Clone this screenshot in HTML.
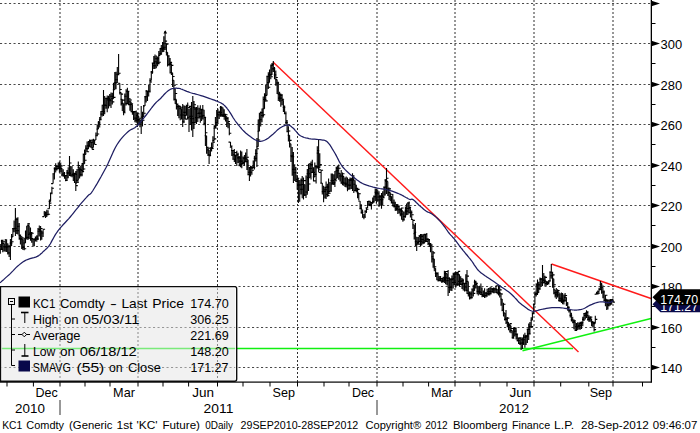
<!DOCTYPE html>
<html><head><meta charset="utf-8"><title>KC1 Comdty</title>
<style>
html,body{margin:0;padding:0;background:#fff;}
body{width:700px;height:433px;position:relative;overflow:hidden;font-family:"Liberation Sans",sans-serif;color:#000;}
svg{position:absolute;left:0;top:0;}
text{font-family:"Liberation Sans",sans-serif;}
</style></head><body>
<svg width="700" height="433" viewBox="0 0 700 433">
<rect width="700" height="433" fill="#fff"/>
<g stroke="#4a4a4a" stroke-width="1" fill="none">
<line x1="0" y1="3.5" x2="651" y2="3.5" stroke-dasharray="2.1 2.4"/>
<line x1="0" y1="43.5" x2="651" y2="43.5" stroke-dasharray="2.1 2.4"/>
<line x1="0" y1="84.5" x2="651" y2="84.5" stroke-dasharray="2.1 2.4"/>
<line x1="0" y1="124.5" x2="651" y2="124.5" stroke-dasharray="2.1 2.4"/>
<line x1="0" y1="165.5" x2="651" y2="165.5" stroke-dasharray="2.1 2.4"/>
<line x1="0" y1="205.5" x2="651" y2="205.5" stroke-dasharray="2.1 2.4"/>
<line x1="0" y1="246.5" x2="651" y2="246.5" stroke-dasharray="2.1 2.4"/>
<line x1="0" y1="286.5" x2="651" y2="286.5" stroke-dasharray="2.1 2.4"/>
<line x1="0" y1="327.5" x2="651" y2="327.5" stroke-dasharray="2.1 2.4"/>
<line x1="0" y1="367.5" x2="651" y2="367.5" stroke-dasharray="2.1 2.4"/>
<line x1="60" y1="0" x2="60" y2="382" stroke="#2e2e2e" stroke-dasharray="2 2"/>
<line x1="138" y1="0" x2="138" y2="382" stroke="#2e2e2e" stroke-dasharray="2 2"/>
<line x1="217.5" y1="0" x2="217.5" y2="382" stroke="#2e2e2e" stroke-dasharray="2 2"/>
<line x1="297.5" y1="0" x2="297.5" y2="382" stroke="#2e2e2e" stroke-dasharray="2 2"/>
<line x1="377" y1="0" x2="377" y2="382" stroke="#2e2e2e" stroke-dasharray="2 2"/>
<line x1="455" y1="0" x2="455" y2="382" stroke="#2e2e2e" stroke-dasharray="2 2"/>
<line x1="534" y1="0" x2="534" y2="382" stroke="#2e2e2e" stroke-dasharray="2 2"/>
<line x1="613" y1="0" x2="613" y2="382" stroke="#2e2e2e" stroke-dasharray="2 2"/>
</g>
<path d="M0 348.5H573" stroke="#10f010" stroke-width="1.3" fill="none"/>
<path d="M522.5 350.8L651 318.5" stroke="#10f010" stroke-width="1.4" fill="none"/>
<path d="M273 62L578.5 352" stroke="#ff1a1a" stroke-width="1.45" fill="none"/>
<path d="M551.5 264L651 298.5" stroke="#ff1a1a" stroke-width="1.4" fill="none"/>
<path d="M0.3 243.9V253.8M-1.7 244.6H0.3M0.3 249.2H2.3M1.6 239.7V249.9M-0.4 249.2H1.6M1.6 240.2H3.6M2.8 241.0V252.3M0.8 241.0H2.8M2.8 241.8H4.8M4.1 243.4V251.5M2.1 243.4H4.1M4.1 246.8H6.1M5.3 239.0V251.7M3.3 246.8H5.3M5.3 247.0H7.3M6.6 239.3V252.0M4.6 247.0H6.6M6.6 246.6H8.6M7.8 243.3V254.5M5.8 246.6H7.8M7.8 252.9H9.8M9.1 244.8V257.1M7.1 252.9H9.1M9.1 246.6H11.1M10.4 239.0V260.0M8.4 246.6H10.4M10.4 243.1H12.4M11.6 233.9V246.1M9.6 243.1H11.6M11.6 241.7H13.6M12.9 228.1V236.9M10.9 236.9H12.9M12.9 228.6H14.9M14.1 220.6V232.3M12.1 228.6H14.1M14.1 228.5H16.1M15.4 208.0V236.0M13.4 228.5H15.4M15.4 219.5H17.4M16.7 217.7V233.9M14.7 219.5H16.7M16.7 230.6H18.7M17.9 217.3V234.5M15.9 230.6H17.9M17.9 226.3H19.9M19.2 222.9V239.7M17.2 226.3H19.2M19.2 235.2H21.2M20.4 234.4V244.5M18.4 235.2H20.4M20.4 238.6H22.4M21.7 236.0V248.9M19.7 238.6H21.7M21.7 237.9H23.7M22.9 239.2V249.9M20.9 239.2H22.9M22.9 247.4H24.9M24.2 238.1V250.2M22.2 247.4H24.2M24.2 248.7H26.2M25.5 230.6V243.0M23.5 243.0H25.5M25.5 237.8H27.5M26.7 225.7V239.6M24.7 237.8H26.7M26.7 237.4H28.7M28.0 222.9V240.0M26.0 237.4H28.0M28.0 223.9H30.0M29.2 225.6V239.0M27.2 225.6H29.2M29.2 234.3H31.2M30.5 227.5V240.8M28.5 234.3H30.5M30.5 232.6H32.5M31.7 233.0V242.8M29.7 233.0H31.7M31.7 233.2H33.7M33.0 238.6V246.2M31.0 238.6H33.0M33.0 239.0H35.0M34.3 238.3V246.2M32.3 239.0H34.3M34.3 239.3H36.3M35.5 236.6V241.4M33.5 239.3H35.5M35.5 237.0H37.5M36.8 235.3V241.8M34.8 237.0H36.8M36.8 238.9H38.8M38.0 228.0V240.1M36.0 238.9H38.0M38.0 231.3H40.0M39.3 225.4V236.6M37.3 231.3H39.3M39.3 229.4H41.3M40.6 226.0V240.5M38.6 229.4H40.6M40.6 228.5H42.6M41.8 230.9V239.8M39.8 230.9H41.8M41.8 233.0H43.8M43.1 229.3V236.9M41.1 233.0H43.1M43.1 229.3H45.1M44.3 210.9V216.6M42.3 216.6H44.3M44.3 213.0H46.3M45.6 211.5V218.0M43.6 213.0H45.6M45.6 214.9H47.6M46.8 209.8V216.9M44.8 214.9H46.8M46.8 214.6H48.8M48.1 210.2V214.8M46.1 214.6H48.1M48.1 214.2H50.1M49.4 199.4V208.7M47.4 208.7H49.4M49.4 203.1H51.4M50.6 192.4V201.5M48.6 201.5H50.6M50.6 193.0H52.6M51.9 186.7V194.3M49.9 193.0H51.9M51.9 188.3H53.9M53.1 173.8V183.6M51.1 183.6H53.1M53.1 173.8H55.1M54.4 167.3V179.6M52.4 173.8H54.4M54.4 168.6H56.4M55.7 163.3V172.6M53.7 168.6H55.7M55.7 169.0H57.7M56.9 165.1V170.4M54.9 169.0H56.9M56.9 166.5H58.9M58.2 162.6V169.2M56.2 166.5H58.2M58.2 168.2H60.2M59.4 161.6V172.7M57.4 168.2H59.4M59.4 166.8H61.4M60.7 162.6V172.2M58.7 166.8H60.7M60.7 165.9H62.7M61.9 168.1V176.3M59.9 168.1H61.9M61.9 174.9H63.9M63.2 169.2V176.7M61.2 174.9H63.2M63.2 173.2H65.2M64.5 171.9V178.8M62.5 173.2H64.5M64.5 175.6H66.5M65.7 175.5V181.3M63.7 175.6H65.7M65.7 180.5H67.7M67.0 170.1V181.0M65.0 180.5H67.0M67.0 172.9H69.0M68.2 167.2V178.3M66.2 172.9H68.2M68.2 173.1H70.2M69.5 156.0V176.0M67.5 173.1H69.5M69.5 163.0H71.5M70.7 166.5V176.6M68.7 166.5H70.7M70.7 175.1H72.7M72.0 165.9V177.2M70.0 175.1H72.0M72.0 175.2H74.0M73.3 169.3V180.9M71.3 175.2H73.3M73.3 173.4H75.3M74.5 174.1V182.9M72.5 174.1H74.5M74.5 174.3H76.5M75.8 171.0V191.0M73.8 174.3H75.8M75.8 185.6H77.8M77.0 168.9V183.0M75.0 183.0H77.0M77.0 182.1H79.0M78.3 161.5V180.4M76.3 180.4H78.3M78.3 165.6H80.3M79.6 167.5V178.6M77.6 167.5H79.6M79.6 169.7H81.6M80.8 166.0V176.4M78.8 169.7H80.8M80.8 174.8H82.8M82.1 163.0V176.2M80.1 174.8H82.1M82.1 171.6H84.1M83.3 153.5V170.5M81.3 170.5H83.3M83.3 169.0H85.3M84.6 149.6V163.7M82.6 163.7H84.6M84.6 160.2H86.6M85.8 145.3V154.5M83.8 154.5H85.8M85.8 148.4H87.8M87.1 141.6V152.1M85.1 148.4H87.1M87.1 151.8H89.1M88.4 141.0V148.9M86.4 148.9H88.4M88.4 146.8H90.4M89.6 139.4V145.9M87.6 145.9H89.6M89.6 140.2H91.6M90.9 141.4V147.7M88.9 141.4H90.9M90.9 142.3H92.9M92.1 139.6V149.6M90.1 142.3H92.1M92.1 149.4H94.1M93.4 138.8V147.6M91.4 147.6H93.4M93.4 140.0H95.4M94.6 139.7V144.6M92.6 140.0H94.6M94.6 144.5H96.6M95.9 132.6V140.0M93.9 140.0H95.9M95.9 135.8H97.9M97.2 124.6V135.9M95.2 135.8H97.2M97.2 134.0H99.2M98.4 121.0V129.1M96.4 129.1H98.4M98.4 122.9H100.4M99.7 116.9V127.6M97.7 122.9H99.7M99.7 119.7H101.7M100.9 111.0V119.8M98.9 119.7H100.9M100.9 114.1H102.9M102.2 104.7V116.4M100.2 114.1H102.2M102.2 111.5H104.2M103.5 90.0V116.0M101.5 111.5H103.5M103.5 105.0H105.5M104.7 95.9V114.2M102.7 105.0H104.7M104.7 105.5H106.7M106.0 98.2V108.7M104.0 105.5H106.0M106.0 98.3H108.0M107.2 95.6V112.2M105.2 98.3H107.2M107.2 98.5H109.2M108.5 95.8V108.4M106.5 98.5H108.5M108.5 99.9H110.5M109.7 93.9V106.2M107.7 99.9H109.7M109.7 100.7H111.7M111.0 92.4V107.9M109.0 100.7H111.0M111.0 96.2H113.0M112.3 92.7V104.6M110.3 96.2H112.3M112.3 101.9H114.3M113.5 82.8V98.8M111.5 98.8H113.5M113.5 97.4H115.5M114.8 72.1V89.7M112.8 89.7H114.8M114.8 82.9H116.8M116.0 71.8V89.2M114.0 82.9H116.0M116.0 79.7H118.0M117.3 66.9V83.0M115.3 79.7H117.3M117.3 74.6H119.3M118.6 54.0V74.3M116.6 74.3H118.6M118.6 73.2H120.6M119.8 83.2V94.5M117.8 83.2H119.8M119.8 89.5H121.8M121.1 92.6V105.4M119.1 92.6H121.1M121.1 94.1H123.1M122.3 99.2V110.9M120.3 99.2H122.3M122.3 100.1H124.3M123.6 103.4V115.2M121.6 103.4H123.6M123.6 112.7H125.6M124.8 93.4V111.9M122.8 111.9H124.8M124.8 96.2H126.8M126.1 89.2V105.6M124.1 96.2H126.1M126.1 103.7H128.1M127.4 87.8V103.3M125.4 103.3H127.4M127.4 91.2H129.4M128.6 91.1V104.8M126.6 91.2H128.6M128.6 104.6H130.6M129.9 98.0V110.8M127.9 104.6H129.9M129.9 100.0H131.9M131.1 101.8V112.3M129.1 101.8H131.1M131.1 103.8H133.1M132.4 104.4V114.7M130.4 104.4H132.4M132.4 111.9H134.4M133.6 111.5V119.9M131.6 111.9H133.6M133.6 111.6H135.6M134.9 111.0V122.3M132.9 111.6H134.9M134.9 118.1H136.9M136.2 110.6V122.7M134.2 118.1H136.2M136.2 120.1H138.2M137.4 112.4V127.0M135.4 120.1H137.4M137.4 113.9H139.4M138.7 115.8V124.5M136.7 115.8H138.7M138.7 118.2H140.7M139.9 119.5V127.2M137.9 119.5H139.9M139.9 122.8H141.9M141.2 106.0V134.0M139.2 122.8H141.2M141.2 120.8H143.2M142.5 111.7V126.5M140.5 120.8H142.5M142.5 120.2H144.5M143.7 105.1V117.0M141.7 117.0H143.7M143.7 113.3H145.7M145.0 96.0V106.0M143.0 106.0H145.0M145.0 96.7H147.0M146.2 90.0V102.6M144.2 96.7H146.2M146.2 91.1H148.2M147.5 90.6V101.0M145.5 91.1H147.5M147.5 91.3H149.5M148.7 84.7V96.6M146.7 91.3H148.7M148.7 91.3H150.7M150.0 78.2V92.6M148.0 91.3H150.0M150.0 82.0H152.0M151.3 70.9V80.6M149.3 80.6H151.3M151.3 72.0H153.3M152.5 62.5V73.7M150.5 72.0H152.5M152.5 63.1H154.5M153.8 56.0V68.9M151.8 63.1H153.8M153.8 65.8H155.8M155.0 54.4V69.1M153.0 65.8H155.0M155.0 61.7H157.0M156.3 55.5V68.2M154.3 61.7H156.3M156.3 58.6H158.3M157.6 56.4V66.2M155.6 58.6H157.6M157.6 63.6H159.6M158.8 51.0V63.1M156.8 63.1H158.8M158.8 62.3H160.8M160.1 48.0V55.4M158.1 55.4H160.1M160.1 54.1H162.1M161.3 45.0V53.8M159.3 53.8H161.3M161.3 48.4H163.3M162.6 41.9V52.2M160.6 48.4H162.6M162.6 49.0H164.6M163.8 36.2V51.9M161.8 49.0H163.8M163.8 47.3H165.8M165.1 31.0V50.1M163.1 47.3H165.1M165.1 41.1H167.1M166.4 43.3V55.6M164.4 43.3H166.4M166.4 44.2H168.4M167.6 52.2V66.6M165.6 52.2H167.6M167.6 55.9H169.6M168.9 55.8V65.8M166.9 55.9H168.9M168.9 64.5H170.9M170.1 58.0V73.6M168.1 64.5H170.1M170.1 62.4H172.1M171.4 63.6V75.0M169.4 63.6H171.4M171.4 65.4H173.4M172.6 72.8V87.0M170.6 72.8H172.6M172.6 76.5H174.6M173.9 80.3V100.6M171.9 80.3H173.9M173.9 85.2H175.9M175.2 88.8V103.9M173.2 88.8H175.2M175.2 93.5H177.2M176.4 99.4V109.4M174.4 99.4H176.4M176.4 104.1H178.4M177.7 104.2V116.0M175.7 104.2H177.7M177.7 106.6H179.7M178.9 105.1V118.2M176.9 106.6H178.9M178.9 106.2H180.9M180.2 106.6V120.2M178.2 106.6H180.2M180.2 107.2H182.2M181.5 108.6V119.5M179.5 108.6H181.5M181.5 115.0H183.5M182.7 104.0V127.0M180.7 115.0H182.7M182.7 121.7H184.7M184.0 105.3V123.0M182.0 121.7H184.0M184.0 112.2H186.0M185.2 106.0V119.3M183.2 112.2H185.2M185.2 119.1H187.2M186.5 104.8V115.5M184.5 115.5H186.5M186.5 105.2H188.5M187.7 102.4V119.6M185.7 105.2H187.7M187.7 117.7H189.7M189.0 109.0V132.0M187.0 117.7H189.0M189.0 106.4H191.0M190.3 107.6V124.9M188.3 107.6H190.3M190.3 116.3H192.3M191.5 102.1V130.6M189.5 116.3H191.5M191.5 118.8H193.5M192.8 96.0V137.0M190.8 118.8H192.8M192.8 122.6H194.8M194.0 101.0V129.0M192.0 122.6H194.0M194.0 104.7H196.0M195.3 107.3V123.3M193.3 107.3H195.3M195.3 109.0H197.3M196.5 107.0V124.1M194.5 109.0H196.5M196.5 117.7H198.5M197.8 105.3V122.1M195.8 117.7H197.8M197.8 113.5H199.8M199.1 107.7V118.4M197.1 113.5H199.1M199.1 113.1H201.1M200.3 105.2V122.7M198.3 113.1H200.3M200.3 116.7H202.3M201.6 108.8V121.0M199.6 116.7H201.6M201.6 109.7H203.6M202.8 105.0V119.5M200.8 109.7H202.8M202.8 115.6H204.8M204.1 109.7V125.2M202.1 115.6H204.1M204.1 117.4H206.1M205.4 118.0V146.0M203.4 123.4H205.4M205.4 132.7H207.4M206.6 135.8V153.7M204.6 135.8H206.6M206.6 147.3H208.6M207.9 147.0V156.0M205.9 147.3H207.9M207.9 148.3H209.9M209.1 149.9V164.0M207.1 149.9H209.1M209.1 155.6H211.1M210.4 147.2V154.9M208.4 154.9H210.4M210.4 147.7H212.4M211.6 142.4V151.4M209.6 147.7H211.6M211.6 148.5H213.6M212.9 136.2V147.6M210.9 147.6H212.9M212.9 142.1H214.9M214.2 125.3V140.5M212.2 140.5H214.2M214.2 138.9H216.2M215.4 116.9V128.3M213.4 128.3H215.4M215.4 128.0H217.4M216.7 110.0V126.1M214.7 126.1H216.7M216.7 123.2H218.7M217.9 108.7V122.6M215.9 122.6H217.9M217.9 114.9H219.9M219.2 110.7V119.1M217.2 114.9H219.2M219.2 112.5H221.2M220.5 106.0V116.8M218.5 112.5H220.5M220.5 107.6H222.5M221.7 106.3V116.8M219.7 107.6H221.7M221.7 114.9H223.7M223.0 107.4V117.1M221.0 114.9H223.0M223.0 116.0H225.0M224.2 109.3V119.7M222.2 116.0H224.2M224.2 114.4H226.2M225.5 114.7V121.4M223.5 114.7H225.5M225.5 114.8H227.5M226.7 116.5V126.9M224.7 116.5H226.7M226.7 117.9H228.7M228.0 118.4V128.2M226.0 118.4H228.0M228.0 121.5H230.0M229.3 123.0V135.3M227.3 123.0H229.3M229.3 133.3H231.3M230.5 142.1V146.4M228.5 142.1H230.5M230.5 146.1H232.5M231.8 147.2V156.1M229.8 147.2H231.8M231.8 150.5H233.8M233.0 150.0V159.3M231.0 150.5H233.0M233.0 159.3H235.0M234.3 149.1V162.1M232.3 159.3H234.3M234.3 152.6H236.3M235.5 154.8V164.1M233.5 154.8H235.5M235.5 155.8H237.5M236.8 150.7V166.1M234.8 155.8H236.8M236.8 154.5H238.8M238.1 152.7V162.9M236.1 154.5H238.1M238.1 157.9H240.1M239.3 155.9V166.2M237.3 157.9H239.3M239.3 165.0H241.3M240.6 150.4V167.3M238.6 165.0H240.6M240.6 161.1H242.6M241.8 151.5V168.3M239.8 161.1H241.8M241.8 163.6H243.8M243.1 156.5V164.6M241.1 163.6H243.1M243.1 162.5H245.1M244.4 155.0V165.8M242.4 162.5H244.4M244.4 158.1H246.4M245.6 152.6V162.3M243.6 158.1H245.6M245.6 161.6H247.6M246.9 149.0V170.0M244.9 161.6H246.9M246.9 157.2H248.9M248.1 159.7V175.1M246.1 159.7H248.1M248.1 174.7H250.1M249.4 166.9V181.0M247.4 174.7H249.4M249.4 172.2H251.4M250.6 165.8V176.6M248.6 172.2H250.6M250.6 167.6H252.6M251.9 165.9V174.8M249.9 167.6H251.9M251.9 170.3H253.9M253.2 160.5V168.2M251.2 168.2H253.2M253.2 167.5H255.2M254.4 155.8V169.5M252.4 167.5H254.4M254.4 158.4H256.4M255.7 149.3V161.4M253.7 158.4H255.7M255.7 153.5H257.7M256.9 138.0V167.0M254.9 153.5H256.9M256.9 148.7H258.9M258.2 119.5V146.8M256.2 146.8H258.2M258.2 140.0H260.2M259.4 112.7V131.2M257.4 131.2H259.4M259.4 119.6H261.4M260.7 111.6V126.6M258.7 119.6H260.7M260.7 112.6H262.7M262.0 108.5V122.3M260.0 112.6H262.0M262.0 115.5H264.0M263.2 96.6V117.6M261.2 115.5H263.2M263.2 114.7H265.2M264.5 93.3V108.8M262.5 108.8H264.5M264.5 99.5H266.5M265.7 84.8V101.7M263.7 99.5H265.7M265.7 100.9H267.7M267.0 75.7V95.4M265.0 95.4H267.0M267.0 76.3H269.0M268.3 72.2V88.9M266.3 76.3H268.3M268.3 87.2H270.3M269.5 69.5V82.6M267.5 82.6H269.5M269.5 74.6H271.5M270.8 64.5V79.3M268.8 74.6H270.8M270.8 76.7H272.8M272.0 63.1V75.0M270.0 75.0H272.0M272.0 64.4H274.0M273.3 61.0V72.1M271.3 65.4H273.3M273.3 68.9H275.3M274.5 67.1V79.2M272.5 68.9H274.5M274.5 74.9H276.5M275.8 70.6V85.7M273.8 74.9H275.8M275.8 77.5H277.8M277.1 79.6V94.0M275.1 79.6H277.1M277.1 83.0H279.1M278.3 81.7V100.9M276.3 83.0H278.3M278.3 94.1H280.3M279.6 91.7V101.8M277.6 94.1H279.6M279.6 98.1H281.6M280.8 93.4V106.7M278.8 98.1H280.8M280.8 94.9H282.8M282.1 95.5V105.2M280.1 95.5H282.1M282.1 99.2H284.1M283.4 100.2V112.0M281.4 100.2H283.4M283.4 107.3H285.4M284.6 105.4V114.1M282.6 107.3H284.6M284.6 113.8H286.6M285.9 111.5V124.0M283.9 113.8H285.9M285.9 122.5H287.9M287.1 120.1V132.2M285.1 122.5H287.1M287.1 131.7H289.1M288.4 126.3V141.5M286.4 131.7H288.4M288.4 131.0H290.4M289.6 135.3V147.5M287.6 135.3H289.6M289.6 140.4H291.6M290.9 143.7V162.0M288.9 143.7H290.9M290.9 155.9H292.9M292.2 146.9V175.8M290.2 155.9H292.2M292.2 156.7H294.2M293.4 152.0V183.0M291.4 156.7H293.4M293.4 169.2H295.4M294.7 164.3V181.1M292.7 169.2H294.7M294.7 172.8H296.7M295.9 166.9V181.8M293.9 172.8H295.9M295.9 181.4H297.9M297.2 174.9V189.8M295.2 181.4H297.2M297.2 178.2H299.2M298.4 179.4V203.0M296.4 179.4H298.4M298.4 185.1H300.4M299.7 180.1V201.8M297.7 185.1H299.7M299.7 184.9H301.7M301.0 178.5V194.6M299.0 184.9H301.0M301.0 189.2H303.0M302.2 176.1V198.3M300.2 189.2H302.2M302.2 180.8H304.2M303.5 177.5V199.6M301.5 180.8H303.5M303.5 180.6H305.5M304.7 184.5V196.1M302.7 184.5H304.7M304.7 195.0H306.7M306.0 175.6V198.0M304.0 195.0H306.0M306.0 192.0H308.0M307.3 168.9V194.8M305.3 192.0H307.3M307.3 173.7H309.3M308.5 163.7V190.9M306.5 173.7H308.5M308.5 184.0H310.5M309.8 163.0V177.7M307.8 177.7H309.8M309.8 168.5H311.8M311.0 161.4V179.6M309.0 168.5H311.0M311.0 164.5H313.0M312.3 159.8V173.0M310.3 164.5H312.3M312.3 172.4H314.3M313.5 167.3V181.4M311.5 172.4H313.5M313.5 180.9H315.5M314.8 162.6V176.9M312.8 176.9H314.8M314.8 174.4H316.8M316.1 165.7V183.6M314.1 174.4H316.1M316.1 166.6H318.1M317.3 146.3V168.5M315.3 166.6H317.3M317.3 150.6H319.3M318.6 139.0V172.0M316.6 153.1H318.6M318.6 172.5H320.6M319.8 153.2V168.0M317.8 168.0H319.8M319.8 164.6H321.8M321.1 169.7V183.1M319.1 169.7H321.1M321.1 170.2H323.1M322.3 183.1V194.5M320.3 183.1H322.3M322.3 191.6H324.3M323.6 185.8V202.2M321.6 191.6H323.6M323.6 191.3H325.6M324.9 186.7V198.5M322.9 191.3H324.9M324.9 189.8H326.9M326.1 181.5V199.1M324.1 189.8H326.1M326.1 187.1H328.1M327.4 183.7V196.7M325.4 187.1H327.4M327.4 195.6H329.4M328.6 178.4V194.2M326.6 194.2H328.6M328.6 193.3H330.6M329.9 182.0V191.6M327.9 191.6H329.9M329.9 191.2H331.9M331.2 173.6V191.6M329.2 191.2H331.2M331.2 180.6H333.2M332.4 173.5V184.8M330.4 180.6H332.4M332.4 184.0H334.4M333.7 174.2V185.0M331.7 184.0H333.7M333.7 182.8H335.7M334.9 171.0V187.1M332.9 182.8H334.9M334.9 180.8H336.9M336.2 166.8V179.4M334.2 179.4H336.2M336.2 170.8H338.2M337.4 165.7V178.2M335.4 170.8H337.4M337.4 168.2H339.4M338.7 164.6V179.7M336.7 168.2H338.7M338.7 168.3H340.7M340.0 173.3V181.6M338.0 173.3H340.0M340.0 176.0H342.0M341.2 170.0V183.9M339.2 176.0H341.2M341.2 182.3H343.2M342.5 172.4V185.3M340.5 182.3H342.5M342.5 173.7H344.5M343.7 176.1V185.8M341.7 176.1H343.7M343.7 183.0H345.7M345.0 177.5V186.9M343.0 183.0H345.0M345.0 183.3H347.0M346.2 176.4V187.5M344.2 183.3H346.2M346.2 184.7H348.2M347.5 177.4V191.2M345.5 184.7H347.5M347.5 189.0H349.5M348.8 179.0V189.8M346.8 189.0H348.8M348.8 185.1H350.8M350.0 177.4V189.5M348.0 185.1H350.0M350.0 180.4H352.0M351.3 177.7V189.1M349.3 180.4H351.3M351.3 179.4H353.3M352.5 173.2V191.0M350.5 179.4H352.5M352.5 180.2H354.5M353.8 175.1V193.0M351.8 180.2H353.8M353.8 184.2H355.8M355.1 180.3V190.6M353.1 184.2H355.1M355.1 190.6H357.1M356.3 184.8V192.2M354.3 190.6H356.3M356.3 188.3H358.3M357.6 189.0V198.2M355.6 189.0H357.6M357.6 189.4H359.6M358.8 192.9V200.0M356.8 192.9H358.8M358.8 193.8H360.8M360.1 201.0V209.3M358.1 201.0H360.1M360.1 208.7H362.1M361.3 204.3V213.7M359.3 208.7H361.3M361.3 212.4H363.3M362.6 209.4V217.7M360.6 212.4H362.6M362.6 217.3H364.6M363.9 214.1V219.2M361.9 217.3H363.9M363.9 217.2H365.9M365.1 210.3V217.4M363.1 217.2H365.1M365.1 211.3H367.1M366.4 208.0V213.1M364.4 211.3H366.4M366.4 209.3H368.4M367.6 201.4V207.9M365.6 207.9H367.6M367.6 201.5H369.6M368.9 200.4V206.0M366.9 201.5H368.9M368.9 204.2H370.9M370.2 200.7V206.2M368.2 204.2H370.2M370.2 205.1H372.2M371.4 202.0V209.6M369.4 205.1H371.4M371.4 202.5H373.4M372.7 197.6V203.9M370.7 202.5H372.7M372.7 201.6H374.7M373.9 195.5V202.8M371.9 201.6H373.9M373.9 196.7H375.9M375.2 188.4V201.1M373.2 196.7H375.2M375.2 192.3H377.2M376.4 189.1V203.7M374.4 192.3H376.4M376.4 193.7H378.4M377.7 189.8V201.6M375.7 193.7H377.7M377.7 200.0H379.7M379.0 191.3V206.9M377.0 200.0H379.0M379.0 197.0H381.0M380.2 195.8V205.7M378.2 197.0H380.2M380.2 195.9H382.2M381.5 192.9V208.7M379.5 195.9H381.5M381.5 199.6H383.5M382.7 191.2V205.5M380.7 199.6H382.7M382.7 197.8H384.7M384.0 186.9V196.7M382.0 196.7H384.0M384.0 187.1H386.0M385.2 178.9V195.5M383.2 187.1H385.2M385.2 180.3H387.2M386.5 168.0V194.0M384.5 180.3H386.5M386.5 178.3H388.5M387.8 181.4V196.0M385.8 181.4H387.8M387.8 189.0H389.8M389.0 187.5V200.0M387.0 189.0H389.0M389.0 188.9H391.0M390.3 192.6V201.3M388.3 192.6H390.3M390.3 194.3H392.3M391.5 196.2V203.3M389.5 196.2H391.5M391.5 202.9H393.5M392.8 194.0V206.4M390.8 202.9H392.8M392.8 205.5H394.8M394.1 199.4V207.6M392.1 205.5H394.1M394.1 206.8H396.1M395.3 201.8V210.9M393.3 206.8H395.3M395.3 208.9H397.3M396.6 204.0V210.8M394.6 208.9H396.6M396.6 206.8H398.6M397.8 203.9V214.0M395.8 206.8H397.8M397.8 206.1H399.8M399.1 205.8V213.5M397.1 206.1H399.1M399.1 209.8H401.1M400.3 208.2V216.3M398.3 209.8H400.3M400.3 214.1H402.3M401.6 207.5V219.7M399.6 214.1H401.6M401.6 208.0H403.6M402.9 210.9V221.7M400.9 210.9H402.9M402.9 220.0H404.9M404.1 211.7V219.7M402.1 219.7H404.1M404.1 216.5H406.1M405.4 206.4V217.7M403.4 216.5H405.4M405.4 211.1H407.4M406.6 203.5V215.3M404.6 211.1H406.6M406.6 208.5H408.6M407.9 202.6V215.1M405.9 208.5H407.9M407.9 202.9H409.9M409.1 201.5V213.6M407.1 202.9H409.1M409.1 207.4H411.1M410.4 208.2V217.5M408.4 208.2H410.4M410.4 212.5H412.4M411.7 210.5V219.4M409.7 212.5H411.7M411.7 214.7H413.7M412.9 219.5V228.9M410.9 219.5H412.9M412.9 220.4H414.9M414.2 224.7V239.5M412.2 224.7H414.2M414.2 232.3H416.2M415.4 223.0V246.0M413.4 233.6H415.4M415.4 241.7H417.4M416.7 236.7V251.1M414.7 241.7H416.7M416.7 244.1H418.7M418.0 237.0V244.5M416.0 244.1H418.0M418.0 244.1H420.0M419.2 235.0V242.6M417.2 242.6H419.2M419.2 241.5H421.2M420.5 234.0V246.4M418.5 241.5H420.5M420.5 236.4H422.5M421.7 234.1V245.4M419.7 236.4H421.7M421.7 239.6H423.7M423.0 234.2V244.3M421.0 239.6H423.0M423.0 242.1H425.0M424.2 233.7V243.8M422.2 242.1H424.2M424.2 234.4H426.2M425.5 234.8V242.3M423.5 234.8H425.5M425.5 241.5H427.5M426.8 232.9V240.5M424.8 240.5H426.8M426.8 239.1H428.8M428.0 238.2V244.9M426.0 239.1H428.0M428.0 239.6H430.0M429.3 239.9V247.0M427.3 239.9H429.3M429.3 243.5H431.3M430.5 243.5V252.2M428.5 243.5H430.5M430.5 244.9H432.5M431.8 244.8V262.4M429.8 244.9H431.8M431.8 256.8H433.8M433.1 251.0V267.8M431.1 256.8H433.1M433.1 252.9H435.1M434.3 258.9V271.3M432.3 258.9H434.3M434.3 266.8H436.3M435.6 268.3V276.9M433.6 268.3H435.6M435.6 273.3H437.6M436.8 272.2V280.2M434.8 273.3H436.8M436.8 273.0H438.8M438.1 273.8V281.5M436.1 273.8H438.1M438.1 280.0H440.1M439.3 275.9V280.6M437.3 280.0H439.3M439.3 280.6H441.3M440.6 276.0V281.6M438.6 280.6H440.6M440.6 278.5H442.6M441.9 278.0V283.0M439.9 278.5H441.9M441.9 281.7H443.9M443.1 276.7V282.1M441.1 281.7H443.1M443.1 280.1H445.1M444.4 270.7V282.9M442.4 280.1H444.4M444.4 277.9H446.4M445.6 271.0V284.3M443.6 277.9H445.6M445.6 271.5H447.6M446.9 273.6V285.3M444.9 273.6H446.9M446.9 280.8H448.9M448.1 270.0V296.0M446.1 280.8H448.1M448.1 278.3H450.1M449.4 277.3V292.9M447.4 278.3H449.4M449.4 287.5H451.4M450.7 278.3V290.8M448.7 287.5H450.7M450.7 279.6H452.7M451.9 275.5V290.9M449.9 279.6H451.9M451.9 278.9H453.9M453.2 272.7V288.4M451.2 278.9H453.2M453.2 282.5H455.2M454.4 272.6V285.1M452.4 282.5H454.4M454.4 274.3H456.4M455.7 271.3V287.8M453.7 274.3H455.7M455.7 272.9H457.7M457.0 272.0V285.9M455.0 272.9H457.0M457.0 284.1H459.0M458.2 271.3V285.8M456.2 284.1H458.2M458.2 271.4H460.2M459.5 274.6V286.6M457.5 274.6H459.5M459.5 281.4H461.5M460.7 276.2V284.9M458.7 281.4H460.7M460.7 284.4H462.7M462.0 278.1V289.0M460.0 284.4H462.0M462.0 280.8H464.0M463.2 278.8V290.4M461.2 280.8H463.2M463.2 283.5H465.2M464.5 282.8V291.5M462.5 283.5H464.5M464.5 283.3H466.5M465.8 274.3V291.2M463.8 283.3H465.8M465.8 290.2H467.8M467.0 270.0V294.0M465.0 287.0H467.0M467.0 276.1H469.0M468.3 281.4V296.6M466.3 281.4H468.3M468.3 293.7H470.3M469.5 291.5V299.6M467.5 293.7H469.5M469.5 294.0H471.5M470.8 291.6V299.2M468.8 294.0H470.8M470.8 297.5H472.8M472.0 289.0V298.6M470.0 297.5H472.0M472.0 289.0H474.0M473.3 284.7V296.4M471.3 289.0H473.3M473.3 293.4H475.3M474.6 279.7V290.7M472.6 290.7H474.6M474.6 282.1H476.6M475.8 280.7V288.5M473.8 282.1H475.8M475.8 283.4H477.8M477.1 284.5V294.3M475.1 284.5H477.1M477.1 291.3H479.1M478.3 286.5V295.5M476.3 291.3H478.3M478.3 291.5H480.3M479.6 285.7V294.6M477.6 291.5H479.6M479.6 292.7H481.6M480.9 283.4V294.9M478.9 292.7H480.9M480.9 294.5H482.9M482.1 287.4V297.2M480.1 294.5H482.1M482.1 296.0H484.1M483.4 290.4V297.0M481.4 296.0H483.4M483.4 295.3H485.4M484.6 288.3V297.9M482.6 295.3H484.6M484.6 295.5H486.6M485.9 292.0V297.4M483.9 295.5H485.9M485.9 293.3H487.9M487.1 288.7V296.8M485.1 293.3H487.1M487.1 293.9H489.1M488.4 287.9V295.4M486.4 293.9H488.4M488.4 291.5H490.4M489.7 287.6V295.6M487.7 291.5H489.7M489.7 293.2H491.7M490.9 287.0V294.5M488.9 293.2H490.9M490.9 291.3H492.9M492.2 288.0V292.8M490.2 291.3H492.2M492.2 289.0H494.2M493.4 287.4V293.2M491.4 289.0H493.4M493.4 288.2H495.4M494.7 289.4V293.2M492.7 289.4H494.7M494.7 289.8H496.7M496.0 285.5V293.1M494.0 289.8H496.0M496.0 285.7H498.0M497.2 289.1V294.2M495.2 289.1H497.2M497.2 292.7H499.2M498.5 285.2V295.6M496.5 292.7H498.5M498.5 285.9H500.5M499.7 285.6V297.4M497.7 285.9H499.7M499.7 289.9H501.7M501.0 293.1V305.7M499.0 293.1H501.0M501.0 294.0H503.0M502.2 299.0V311.3M500.2 299.0H502.2M502.2 310.3H504.2M503.5 302.8V316.4M501.5 310.3H503.5M503.5 304.3H505.5M504.8 312.9V320.6M502.8 312.9H504.8M504.8 319.5H506.8M506.0 310.1V324.1M504.0 319.5H506.0M506.0 318.9H508.0M507.3 317.1V327.3M505.3 318.9H507.3M507.3 318.1H509.3M508.5 322.2V330.2M506.5 322.2H508.5M508.5 324.8H510.5M509.8 323.4V332.6M507.8 324.8H509.8M509.8 323.6H511.8M511.0 325.7V333.3M509.0 325.7H511.0M511.0 328.5H513.0M512.3 330.5V338.4M510.3 330.5H512.3M512.3 338.2H514.3M513.6 328.4V337.7M511.6 337.7H513.6M513.6 328.6H515.6M514.8 327.0V336.4M512.8 328.6H514.8M514.8 331.1H516.8M516.1 327.5V339.6M514.1 331.1H516.1M516.1 334.0H518.1M517.3 334.1V341.6M515.3 334.1H517.3M517.3 340.5H519.3M518.6 337.9V343.9M516.6 340.5H518.6M518.6 337.9H520.6M519.9 338.1V344.9M517.9 338.1H519.9M519.9 343.3H521.9M521.1 337.3V350.0M519.1 343.3H521.1M521.1 343.0H523.1M522.4 337.5V349.0M520.4 343.0H522.4M522.4 339.7H524.4M523.6 334.6V345.1M521.6 339.7H523.6M523.6 337.3H525.6M524.9 332.8V347.7M522.9 337.3H524.9M524.9 337.0H526.9M526.1 335.0V345.1M524.1 337.0H526.1M526.1 336.1H528.1M527.4 328.4V343.0M525.4 336.1H527.4M527.4 329.5H529.4M528.7 323.5V340.1M526.7 329.5H528.7M528.7 333.9H530.7M529.9 321.9V334.5M527.9 333.9H529.9M529.9 326.9H531.9M531.2 317.3V327.7M529.2 326.9H531.2M531.2 326.5H533.2M532.4 312.2V320.3M530.4 320.3H532.4M532.4 313.8H534.4M533.7 303.4V312.7M531.7 312.7H533.7M533.7 307.0H535.7M534.9 291.4V304.4M532.9 304.4H534.9M534.9 294.4H536.9M536.2 283.2V296.4M534.2 294.4H536.2M536.2 293.2H538.2M537.5 279.5V294.9M535.5 293.2H537.5M537.5 284.9H539.5M538.7 281.7V292.9M536.7 284.9H538.7M538.7 289.1H540.7M540.0 277.4V288.7M538.0 288.7H540.0M540.0 279.3H542.0M541.2 278.0V286.2M539.2 279.3H541.2M541.2 279.1H543.2M542.5 265.0V286.0M540.5 279.1H542.5M542.5 282.6H544.5M543.8 272.9V283.6M541.8 282.6H543.8M543.8 280.4H545.8M545.0 275.8V285.9M543.0 280.4H545.0M545.0 277.4H547.0M546.3 281.1V285.7M544.3 281.1H546.3M546.3 283.5H548.3M547.5 281.2V284.9M545.5 283.5H547.5M547.5 282.4H549.5M548.8 280.4V284.5M546.8 282.4H548.8M548.8 280.8H550.8M550.0 271.2V281.7M548.0 280.8H550.0M550.0 272.3H552.0M551.3 264.0V278.6M549.3 272.3H551.3M551.3 275.8H553.3M552.6 271.8V287.8M550.6 275.8H552.6M552.6 274.9H554.6M553.8 278.7V294.3M551.8 278.7H553.8M553.8 284.7H555.8M555.1 289.8V297.5M553.1 289.8H555.1M555.1 292.9H557.1M556.3 287.9V298.9M554.3 292.9H556.3M556.3 294.9H558.3M557.6 289.3V297.6M555.6 294.9H557.6M557.6 290.5H559.6M558.9 291.8V301.4M556.9 291.8H558.9M558.9 300.5H560.9M560.1 293.3V301.9M558.1 300.5H560.1M560.1 298.2H562.1M561.4 292.6V303.0M559.4 298.2H561.4M561.4 300.1H563.4M562.6 293.0V304.3M560.6 300.1H562.6M562.6 301.8H564.6M563.9 294.5V304.5M561.9 301.8H563.9M563.9 300.9H565.9M565.1 293.0V301.1M563.1 300.9H565.1M565.1 295.5H567.1M566.4 297.3V305.9M564.4 297.3H566.4M566.4 304.0H568.4M567.7 302.1V310.7M565.7 304.0H567.7M567.7 307.5H569.7M568.9 306.3V312.6M566.9 307.5H568.9M568.9 310.2H570.9M570.2 310.8V317.6M568.2 310.8H570.2M570.2 315.4H572.2M571.4 312.8V321.6M569.4 315.4H571.4M571.4 319.7H573.4M572.7 316.7V323.3M570.7 319.7H572.7M572.7 320.0H574.7M573.9 319.4V329.2M571.9 320.0H573.9M573.9 320.9H575.9M575.2 322.1V331.0M573.2 322.1H575.2M575.2 330.5H577.2M576.5 322.9V330.2M574.5 330.2H576.5M576.5 326.8H578.5M577.7 322.3V330.0M575.7 326.8H577.7M577.7 326.2H579.7M579.0 322.6V329.5M577.0 326.2H579.0M579.0 325.4H581.0M580.2 321.8V329.7M578.2 325.4H580.2M580.2 323.4H582.2M581.5 321.6V328.9M579.5 323.4H581.5M581.5 322.5H583.5M582.8 316.7V326.3M580.8 322.5H582.8M582.8 320.1H584.8M584.0 313.6V319.4M582.0 319.4H584.0M584.0 313.6H586.0M585.3 312.5V319.5M583.3 313.6H585.3M585.3 315.5H587.3M586.5 310.2V317.9M584.5 315.5H586.5M586.5 311.9H588.5M587.8 312.5V320.3M585.8 312.5H587.8M587.8 319.9H589.8M589.0 315.2V322.1M587.0 319.9H589.0M589.0 317.9H591.0M590.3 316.3V321.8M588.3 317.9H590.3M590.3 317.1H592.3M591.6 318.8V326.2M589.6 318.8H591.6M591.6 322.3H593.6M592.8 321.1V327.6M590.8 322.3H592.8M592.8 322.5H594.8M594.1 321.8V331.4M592.1 322.5H594.1M594.1 329.6H596.1M595.3 315.8V323.6M593.3 323.6H595.3M595.3 319.4H597.3M596.6 291.7V294.3M594.6 294.3H596.6M596.6 293.9H598.6M597.8 290.5V293.6M595.8 293.6H597.8M597.8 293.1H599.8M599.1 287.7V291.7M597.1 291.7H599.1M599.1 289.4H601.1M600.4 281.0V290.2M598.4 289.4H600.4M600.4 284.3H602.4M601.6 282.7V293.8M599.6 284.3H601.6M601.6 286.0H603.6M602.9 287.3V298.2M600.9 287.3H602.9M602.9 292.0H604.9M604.1 290.6V301.4M602.1 292.0H604.1M604.1 300.6H606.1M605.4 294.7V306.2M603.4 300.6H605.4M605.4 295.3H607.4M606.7 299.2V309.9M604.7 299.2H606.7M606.7 300.7H608.7M607.9 299.3V309.4M605.9 300.7H607.9M607.9 305.7H609.9M609.2 299.5V304.9M607.2 304.9H609.2M609.2 303.0H611.2M610.4 299.1V305.4M608.4 303.0H610.4M610.4 299.8H612.4M611.7 299.1V304.8M609.7 299.8H611.7M611.7 301.1H613.7M612.9 298.6V302.5M610.9 301.1H612.9M612.9 302.1H614.9" stroke="#000" stroke-width="1.1" fill="none"/>
<path d="M163.4 33.6L165.3 30.2L167.2 33.6Z" fill="#000"/>
<path d="M0.0 282.7L1.0 281.9L2.3 280.7L3.9 279.4L5.5 277.9L7.2 276.4L8.8 275.0L10.3 273.6L11.7 272.1L13.2 270.6L14.6 269.1L16.0 267.6L17.5 266.3L18.9 265.1L20.3 263.9L21.8 262.8L23.2 261.8L24.7 260.9L26.3 260.0L28.1 259.3L30.0 258.7L31.9 258.1L33.9 257.6L35.7 257.1L37.3 256.4L38.7 255.6L39.9 254.7L40.9 253.8L42.0 252.9L42.9 251.9L43.9 251.0L44.9 250.1L45.8 249.3L46.7 248.5L47.5 247.6L48.4 246.6L49.3 245.4L50.2 244.0L51.1 242.4L52.0 240.6L53.0 238.9L53.9 237.2L54.8 235.6L55.7 234.2L56.5 233.0L57.3 231.8L58.1 230.6L59.1 229.3L60.3 227.9L61.7 226.3L63.3 224.5L65.0 222.7L66.8 220.8L68.6 218.9L70.2 217.0L71.7 215.2L73.2 213.3L74.7 211.4L76.1 209.6L77.6 207.8L79.0 206.0L80.5 204.2L82.0 202.4L83.6 200.6L85.1 198.9L86.5 197.4L87.7 196.0L88.6 195.1L89.3 194.6L89.9 194.3L90.5 193.8L91.3 192.8L92.6 191.0L94.3 188.2L96.5 184.7L98.8 180.6L101.3 176.3L103.6 172.0L105.8 168.0L107.8 164.1L109.6 160.0L111.4 155.9L113.2 151.9L115.0 148.3L116.8 145.0L118.7 142.2L120.5 139.6L122.4 137.4L124.2 135.4L126.0 133.6L127.7 132.0L129.2 130.7L130.7 129.8L132.1 129.1L133.4 128.5L134.8 127.7L136.2 126.6L137.7 125.2L139.2 123.5L140.8 121.7L142.3 119.8L143.9 117.9L145.4 116.0L147.0 114.0L148.6 111.8L150.3 109.7L151.9 107.5L153.4 105.6L154.7 104.0L155.8 102.8L156.7 101.9L157.6 101.1L158.3 100.5L159.1 99.8L160.0 99.0L161.0 98.0L162.0 96.8L163.1 95.7L164.1 94.5L165.1 93.5L166.0 92.6L166.8 91.9L167.5 91.2L168.2 90.7L168.8 90.3L169.4 89.9L170.0 89.5L170.6 89.2L171.2 88.9L171.7 88.8L172.3 88.6L172.9 88.5L173.5 88.4L174.2 88.3L175.0 88.3L175.8 88.2L176.6 88.2L177.3 88.3L178.0 88.3L178.5 88.3L178.9 88.4L179.2 88.4L179.6 88.5L180.2 88.7L181.0 89.0L182.2 89.4L183.6 90.0L185.1 90.6L186.8 91.3L188.4 91.9L190.0 92.5L191.5 93.0L192.9 93.4L194.3 93.7L195.8 94.1L197.3 94.5L199.0 95.0L200.9 95.6L202.9 96.2L205.0 96.9L207.1 97.6L209.1 98.3L211.0 99.0L212.7 99.6L214.4 100.2L216.0 100.8L217.4 101.4L218.8 102.0L220.0 102.5L221.0 103.0L221.8 103.4L222.5 103.9L223.2 104.3L223.8 104.9L224.5 105.5L225.2 106.2L225.9 107.0L226.7 107.8L227.4 108.8L228.2 109.8L229.0 111.0L229.9 112.4L230.9 113.9L231.9 115.6L232.9 117.3L234.0 119.0L235.0 120.5L236.0 121.9L237.0 123.2L238.0 124.5L239.0 125.7L240.0 126.9L241.0 128.0L241.9 129.1L242.8 130.1L243.7 131.0L244.7 132.0L245.7 133.0L247.0 134.0L248.5 135.2L250.3 136.6L252.2 137.9L254.1 139.2L256.0 140.3L257.6 141.0L259.0 141.3L260.3 141.4L261.5 141.2L262.7 140.9L263.8 140.5L265.0 140.0L266.2 139.4L267.3 138.7L268.5 137.9L269.6 137.0L270.8 136.0L272.0 135.0L273.3 133.9L274.6 132.7L276.0 131.4L277.3 130.1L278.7 129.0L280.0 128.0L281.3 127.2L282.6 126.5L284.0 125.9L285.2 125.4L286.5 125.1L287.6 125.0L288.6 125.1L289.5 125.4L290.3 125.8L291.2 126.4L292.0 127.2L293.0 128.0L294.1 129.0L295.1 130.3L296.3 131.7L297.5 133.2L298.7 134.5L300.0 135.5L301.4 136.3L302.8 136.9L304.2 137.5L305.8 137.9L307.4 138.2L309.0 138.6L310.8 138.9L312.7 139.1L314.6 139.2L316.5 139.3L318.4 139.5L320.0 139.7L321.4 139.9L322.7 140.1L323.9 140.2L325.1 140.5L326.2 141.1L327.4 142.0L328.6 143.3L329.9 144.9L331.1 146.8L332.3 148.9L333.6 151.0L334.8 153.0L336.0 155.1L337.1 157.3L338.3 159.6L339.4 161.9L340.7 164.0L342.0 166.0L343.4 167.8L344.9 169.4L346.5 171.0L348.1 172.5L349.7 174.0L351.4 175.4L353.1 176.9L354.9 178.3L356.7 179.8L358.6 181.1L360.5 182.4L362.5 183.5L364.5 184.4L366.7 185.2L368.9 185.9L371.1 186.5L373.2 187.1L375.4 187.6L377.5 188.1L379.7 188.5L381.8 188.8L383.9 189.1L386.0 189.5L388.0 190.0L390.0 190.6L392.1 191.2L394.1 191.9L396.0 192.6L397.8 193.3L399.4 194.0L400.8 194.6L402.1 195.3L403.2 195.9L404.2 196.5L405.1 197.0L406.0 197.5L406.8 197.9L407.6 198.3L408.2 198.7L408.8 199.0L409.4 199.3L410.0 199.5L410.5 199.6L410.9 199.4L411.3 199.3L411.7 199.2L412.3 199.2L413.0 199.6L413.9 200.3L415.1 201.3L416.3 202.5L417.6 203.7L418.8 204.9L420.0 206.0L421.1 206.9L422.1 207.8L423.1 208.7L424.0 209.5L425.0 210.3L426.0 211.0L427.0 211.6L428.0 212.1L429.0 212.5L430.0 212.9L431.0 213.4L432.0 214.0L433.0 214.7L434.0 215.4L435.0 216.2L436.0 217.1L437.0 218.0L438.0 219.0L439.0 220.1L440.0 221.2L441.1 222.4L442.1 223.6L443.1 224.8L444.0 226.0L444.9 227.2L445.7 228.4L446.5 229.5L447.3 230.7L448.1 231.9L449.0 233.0L449.9 234.1L450.8 235.1L451.8 236.1L452.7 237.2L453.7 238.2L454.6 239.3L455.5 240.4L456.4 241.6L457.3 242.8L458.2 244.0L459.1 245.3L460.0 246.5L461.0 247.8L462.0 249.0L463.0 250.3L464.1 251.6L465.1 252.8L466.0 254.0L466.9 255.0L467.7 256.0L468.4 256.8L469.2 257.8L470.1 258.8L471.0 260.0L472.1 261.5L473.2 263.2L474.4 265.1L475.7 266.9L476.9 268.6L478.0 270.0L479.1 271.1L480.1 272.1L481.1 272.9L482.0 273.6L483.0 274.3L484.0 275.0L485.0 275.7L485.9 276.3L486.8 276.9L487.7 277.5L488.8 278.2L490.0 279.0L491.4 280.0L493.0 281.1L494.8 282.3L496.5 283.6L498.3 284.8L500.0 286.0L501.7 287.2L503.4 288.3L505.2 289.5L506.9 290.7L508.5 291.8L510.0 293.0L511.4 294.2L512.7 295.5L513.9 296.7L515.0 297.9L516.1 299.0L517.0 300.0L517.7 300.8L518.1 301.3L518.5 301.8L518.9 302.2L519.5 302.8L520.5 303.6L521.9 304.7L523.7 306.1L525.7 307.6L527.7 309.1L529.8 310.2L531.6 311.0L533.2 311.3L534.8 311.2L536.3 310.8L537.8 310.4L539.4 309.9L541.0 309.5L542.7 309.2L544.5 308.8L546.4 308.4L548.3 308.1L550.1 307.8L552.0 307.6L553.8 307.5L555.7 307.5L557.5 307.6L559.3 307.7L561.2 307.8L563.0 308.0L564.9 308.3L566.8 308.7L568.6 309.1L570.5 309.5L572.3 309.8L574.0 310.0L575.6 310.0L577.1 310.0L578.6 309.8L580.0 309.6L581.4 309.4L582.7 309.0L584.0 308.5L585.1 308.0L586.3 307.3L587.4 306.6L588.5 306.0L589.6 305.4L590.8 304.9L592.0 304.4L593.1 303.9L594.3 303.4L595.4 303.0L596.5 302.7L597.5 302.4L598.4 302.2L599.2 302.0L600.1 301.9L601.0 301.8L602.0 301.8L603.1 301.9L604.3 302.1L605.6 302.3L606.8 302.5L608.0 302.7L609.0 302.7L609.9 302.5L610.7 302.2L611.4 301.8L612.1 301.3L612.6 301.0L613.0 300.7" stroke="#1e1e62" stroke-width="1.25" fill="none" stroke-linejoin="round"/>
<rect x="650.7" y="0" width="1.3" height="382.6" fill="#000"/>
<rect x="0" y="381.5" width="651.7" height="1.2" fill="#000"/>
<path d="M651.5 0.7999999999999998L660 3.5L651.5 6.2Z" fill="#000"/>
<path d="M651.5 40.8L660 43.5L651.5 46.2Z" fill="#000"/>
<path d="M651.5 81.8L660 84.5L651.5 87.2Z" fill="#000"/>
<path d="M651.5 121.8L660 124.5L651.5 127.2Z" fill="#000"/>
<path d="M651.5 162.8L660 165.5L651.5 168.2Z" fill="#000"/>
<path d="M651.5 202.8L660 205.5L651.5 208.2Z" fill="#000"/>
<path d="M651.5 243.8L660 246.5L651.5 249.2Z" fill="#000"/>
<path d="M651.5 283.8L660 286.5L651.5 289.2Z" fill="#000"/>
<path d="M651.5 324.8L660 327.5L651.5 330.2Z" fill="#000"/>
<path d="M651.5 364.8L660 367.5L651.5 370.2Z" fill="#000"/>
<rect x="651" y="23" width="4.5" height="1" fill="#000"/>
<rect x="651" y="63" width="4.5" height="1" fill="#000"/>
<rect x="651" y="104" width="4.5" height="1" fill="#000"/>
<rect x="651" y="144" width="4.5" height="1" fill="#000"/>
<rect x="651" y="185" width="4.5" height="1" fill="#000"/>
<rect x="651" y="225" width="4.5" height="1" fill="#000"/>
<rect x="651" y="266" width="4.5" height="1" fill="#000"/>
<rect x="651" y="306" width="4.5" height="1" fill="#000"/>
<rect x="651" y="347" width="4.5" height="1" fill="#000"/>
<rect x="6.5" y="382" width="1" height="4.5" fill="#000"/>
<rect x="32.9" y="382" width="1" height="4.5" fill="#000"/>
<rect x="59.5" y="382" width="1" height="4.5" fill="#000"/>
<rect x="84.5" y="382" width="1" height="4.5" fill="#000"/>
<rect x="109.5" y="382" width="1" height="4.5" fill="#000"/>
<rect x="137.5" y="382" width="1" height="4.5" fill="#000"/>
<rect x="162.5" y="382" width="1" height="4.5" fill="#000"/>
<rect x="188.1" y="382" width="1" height="4.5" fill="#000"/>
<rect x="217.0" y="382" width="1" height="4.5" fill="#000"/>
<rect x="242.5" y="382" width="1" height="4.5" fill="#000"/>
<rect x="269.5" y="382" width="1" height="4.5" fill="#000"/>
<rect x="297.0" y="382" width="1" height="4.5" fill="#000"/>
<rect x="323.5" y="382" width="1" height="4.5" fill="#000"/>
<rect x="348.5" y="382" width="1" height="4.5" fill="#000"/>
<rect x="376.5" y="382" width="1" height="4.5" fill="#000"/>
<rect x="402.5" y="382" width="1" height="4.5" fill="#000"/>
<rect x="428.1" y="382" width="1" height="4.5" fill="#000"/>
<rect x="454.5" y="382" width="1" height="4.5" fill="#000"/>
<rect x="479.5" y="382" width="1" height="4.5" fill="#000"/>
<rect x="506.5" y="382" width="1" height="4.5" fill="#000"/>
<rect x="533.5" y="382" width="1" height="4.5" fill="#000"/>
<rect x="560.2" y="382" width="1" height="4.5" fill="#000"/>
<rect x="588.3" y="382" width="1" height="4.5" fill="#000"/>
<rect x="612.5" y="382" width="1" height="4.5" fill="#000"/>
<rect x="642.0" y="382" width="1" height="4.5" fill="#000"/>
<rect x="59.5" y="400" width="1" height="15" fill="#333"/>
<rect x="376.5" y="400" width="1" height="15" fill="#333"/>
<text x="660.6" y="48.9" font-size="13" fill="#000" textLength="21.6" lengthAdjust="spacingAndGlyphs">300</text>
<text x="660.6" y="89.9" font-size="13" fill="#000" textLength="21.6" lengthAdjust="spacingAndGlyphs">280</text>
<text x="660.6" y="129.9" font-size="13" fill="#000" textLength="21.6" lengthAdjust="spacingAndGlyphs">260</text>
<text x="660.6" y="170.9" font-size="13" fill="#000" textLength="21.6" lengthAdjust="spacingAndGlyphs">240</text>
<text x="660.6" y="210.9" font-size="13" fill="#000" textLength="21.6" lengthAdjust="spacingAndGlyphs">220</text>
<text x="660.6" y="251.9" font-size="13" fill="#000" textLength="21.6" lengthAdjust="spacingAndGlyphs">200</text>
<text x="660.6" y="291.9" font-size="13" fill="#000" textLength="21.6" lengthAdjust="spacingAndGlyphs">180</text>
<text x="660.6" y="332.9" font-size="13" fill="#000" textLength="21.6" lengthAdjust="spacingAndGlyphs">160</text>
<text x="660.6" y="372.9" font-size="13" fill="#000" textLength="21.6" lengthAdjust="spacingAndGlyphs">140</text>
<text x="35.6" y="396.7" font-size="13" fill="#000" textLength="22.2" lengthAdjust="spacingAndGlyphs">Dec</text>
<text x="113.1" y="396.7" font-size="13" fill="#000" textLength="21.8" lengthAdjust="spacingAndGlyphs">Mar</text>
<text x="192.2" y="396.7" font-size="13" fill="#000" textLength="21.8" lengthAdjust="spacingAndGlyphs">Jun</text>
<text x="272.5" y="396.7" font-size="13" fill="#000" textLength="22.4" lengthAdjust="spacingAndGlyphs">Sep</text>
<text x="351.9" y="396.7" font-size="13" fill="#000" textLength="22.2" lengthAdjust="spacingAndGlyphs">Dec</text>
<text x="430.9" y="396.7" font-size="13" fill="#000" textLength="21.8" lengthAdjust="spacingAndGlyphs">Mar</text>
<text x="509.6" y="396.7" font-size="13" fill="#000" textLength="21.8" lengthAdjust="spacingAndGlyphs">Jun</text>
<text x="589.7" y="396.7" font-size="13" fill="#000" textLength="22.4" lengthAdjust="spacingAndGlyphs">Sep</text>
<text x="15.1" y="412.9" font-size="13" fill="#000" textLength="29.8" lengthAdjust="spacingAndGlyphs">2010</text>
<text x="203.6" y="412.9" font-size="13" fill="#000" textLength="29.8" lengthAdjust="spacingAndGlyphs">2011</text>
<text x="499.1" y="412.9" font-size="13" fill="#000" textLength="29.8" lengthAdjust="spacingAndGlyphs">2012</text>
<text x="2.2" y="428.6" font-size="11" fill="#000" textLength="20.0" lengthAdjust="spacingAndGlyphs">KC1</text>
<text x="26.3" y="428.6" font-size="11" fill="#000" textLength="37.7" lengthAdjust="spacingAndGlyphs">Comdty</text>
<text x="69.1" y="428.6" font-size="11" fill="#000" textLength="43.4" lengthAdjust="spacingAndGlyphs">(Generic</text>
<text x="116.5" y="428.6" font-size="11" fill="#000" textLength="16.0" lengthAdjust="spacingAndGlyphs">1st</text>
<text x="136.5" y="428.6" font-size="11" fill="#000" textLength="21.0" lengthAdjust="spacingAndGlyphs">'KC'</text>
<text x="162.5" y="428.6" font-size="11" fill="#000" textLength="37.5" lengthAdjust="spacingAndGlyphs">Future)</text>
<text x="205.2" y="428.6" font-size="11" fill="#000" textLength="27.7" lengthAdjust="spacingAndGlyphs">0Daily</text>
<text x="240.5" y="428.6" font-size="11" fill="#000" textLength="117.8" lengthAdjust="spacingAndGlyphs">29SEP2010-28SEP2012</text>
<text x="365.5" y="428.6" font-size="11" fill="#000" textLength="55.6" lengthAdjust="spacingAndGlyphs">Copyright®</text>
<text x="425.2" y="428.6" font-size="11" fill="#000" textLength="22.4" lengthAdjust="spacingAndGlyphs">2012</text>
<text x="453.0" y="428.6" font-size="11" fill="#000" textLength="54.6" lengthAdjust="spacingAndGlyphs">Bloomberg</text>
<text x="512.0" y="428.6" font-size="11" fill="#000" textLength="38.1" lengthAdjust="spacingAndGlyphs">Finance</text>
<text x="554.1" y="428.6" font-size="11" fill="#000" textLength="20.1" lengthAdjust="spacingAndGlyphs">L.P.</text>
<text x="580.9" y="428.6" font-size="11" fill="#000" textLength="67.9" lengthAdjust="spacingAndGlyphs">28-Sep-2012</text>
<text x="652.8" y="428.6" font-size="11" fill="#000" textLength="44.5" lengthAdjust="spacingAndGlyphs">09:46:07</text>
<!-- value tags -->
<path d="M652.5 304.2L660.5 296.2H700V312.2H660.5Z" fill="#0a0a4a"/>
<text x="660.2" y="310.6" font-size="13" fill="#fff" textLength="37.9" lengthAdjust="spacingAndGlyphs">171.27</text>
<path d="M652.5 297.2L660.5 289.2H700V305.2H660.5Z" fill="#000"/>
<text x="660.2" y="303.6" font-size="13" fill="#fff" textLength="37.9" lengthAdjust="spacingAndGlyphs">174.70</text>
<!-- legend -->
<rect x="1" y="287" width="235.2" height="94" fill="#e4e4e4" fill-opacity="0.5"/>
<rect x="1.6" y="287.8" width="234" height="92.6" fill="none" stroke="#fff" stroke-opacity="0.85" stroke-width="1"/>
<path d="M0.5 382V286.6H234.6Q236.7 286.6 236.7 288.7V379Q236.7 381.2 234.6 381.2H0.5" fill="none" stroke="#0a0a0a" stroke-width="1.35"/>
<g fill="none" stroke="#000" stroke-width="1">
<rect x="8.5" y="298.5" width="6" height="6" fill="#f0f0f0"/>
<path d="M10 301.5H13"/>
<path d="M11.5 304.5V365.5H15M11.5 319H15M11.5 334.5H15M11.5 350H15"/>
<path d="M21 312.5H28.5" stroke-width="1.6"/><path d="M24.8 312.5V323"/>
<path d="M18 334.5H30"/>
<path d="M21.5 356H28.5" stroke-width="1.6"/><path d="M24.8 344V356"/>
</g>
<path d="M24.3 332.2L26.6 334.5L24.3 336.8L22 334.5Z" fill="#f0f0f0" stroke="#000" stroke-width="1"/>
<rect x="18.5" y="296.5" width="11.5" height="11" fill="#000"/>
<rect x="18.5" y="360.5" width="11.5" height="11" fill="#08084a"/>
<text x="32.9" y="307.7" font-size="13" fill="#000" textLength="22.4" lengthAdjust="spacingAndGlyphs">KC1</text>
<text x="59.9" y="307.7" font-size="13" fill="#000" textLength="44.9" lengthAdjust="spacingAndGlyphs">Comdty</text>
<text x="110.0" y="307.7" font-size="13" fill="#000" textLength="6.9" lengthAdjust="spacingAndGlyphs">-</text>
<text x="121.5" y="307.7" font-size="13" fill="#000" textLength="25.9" lengthAdjust="spacingAndGlyphs">Last</text>
<text x="152.2" y="307.7" font-size="13" fill="#000" textLength="31.8" lengthAdjust="spacingAndGlyphs">Price</text>
<text x="190.2" y="307.7" font-size="13" fill="#000" textLength="38.5" lengthAdjust="spacingAndGlyphs">174.70</text>
<text x="32.9" y="323.7" font-size="13" fill="#000" textLength="25.6" lengthAdjust="spacingAndGlyphs">High</text>
<text x="63.9" y="323.7" font-size="13" fill="#000" textLength="14.7" lengthAdjust="spacingAndGlyphs">on</text>
<text x="82.7" y="323.7" font-size="13" fill="#000" textLength="56.7" lengthAdjust="spacingAndGlyphs">05/03/11</text>
<text x="190.2" y="323.7" font-size="13" fill="#000" textLength="38.5" lengthAdjust="spacingAndGlyphs">306.25</text>
<text x="32.9" y="339.8" font-size="13" fill="#000" textLength="47.6" lengthAdjust="spacingAndGlyphs">Average</text>
<text x="190.2" y="339.8" font-size="13" fill="#000" textLength="38.5" lengthAdjust="spacingAndGlyphs">221.69</text>
<text x="32.9" y="355.9" font-size="13" fill="#000" textLength="22.4" lengthAdjust="spacingAndGlyphs">Low</text>
<text x="59.9" y="355.9" font-size="13" fill="#000" textLength="15.1" lengthAdjust="spacingAndGlyphs">on</text>
<text x="79.7" y="355.9" font-size="13" fill="#000" textLength="57.1" lengthAdjust="spacingAndGlyphs">06/18/12</text>
<text x="190.2" y="355.9" font-size="13" fill="#000" textLength="38.5" lengthAdjust="spacingAndGlyphs">148.20</text>
<text x="32.8" y="371.9" font-size="13" fill="#000" textLength="38.1" lengthAdjust="spacingAndGlyphs">SMAVG</text>
<text x="76.5" y="371.9" font-size="13" fill="#000" textLength="27.8" lengthAdjust="spacingAndGlyphs">(55)</text>
<text x="109.0" y="371.9" font-size="13" fill="#000" textLength="13.7" lengthAdjust="spacingAndGlyphs">on</text>
<text x="127.9" y="371.9" font-size="13" fill="#000" textLength="33.0" lengthAdjust="spacingAndGlyphs">Close</text>
<text x="190.4" y="371.9" font-size="13" fill="#000" textLength="38.0" lengthAdjust="spacingAndGlyphs">171.27</text>
</svg>
</body></html>
